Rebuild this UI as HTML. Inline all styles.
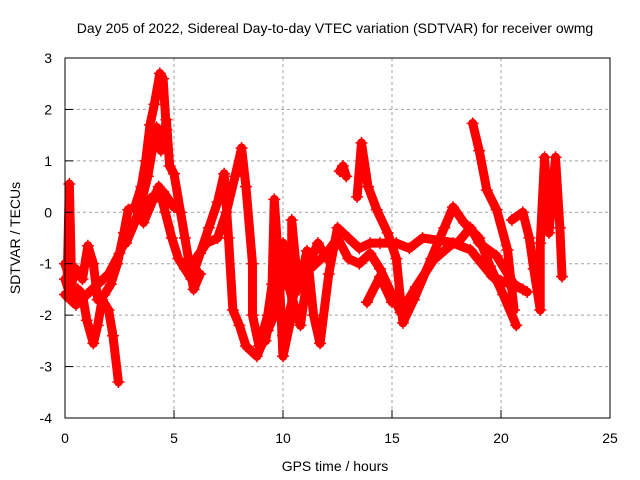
<!DOCTYPE html>
<html><head><meta charset="utf-8"><style>
body{margin:0;background:#fff}
svg{display:block;font-family:"Liberation Sans",sans-serif}
</style></head><body>
<svg id="c" width="640" height="480">
<text x="335" y="33" font-size="14" text-anchor="middle">Day 205 of 2022, Sidereal Day-to-day VTEC variation (SDTVAR) for receiver owmg</text>
<text x="335" y="471" font-size="14" text-anchor="middle">GPS time / hours</text>
<text transform="translate(20,238) rotate(-90)" font-size="14" text-anchor="middle">SDTVAR / TECUs</text>
<g id="grid"></g><g id="marks"></g>
<rect x="65" y="58" width="545" height="360" fill="none" stroke="#000" stroke-width="1"/>
<g id="ticks"></g>
</svg>
<script>
const xTicks=[0,5,10,15,20,25];
const yTicks=[-4,-3,-2,-1,0,1,2,3];
const s1=[[0,-1.3],[0.3,-1.7],[0.6,-1.5],[0.8,-1.6],[1.0,-2.1],[1.3,-2.55],[1.5,-2.2],[1.7,-1.7],[2.0,-1.9],[2.2,-2.4],[2.45,-3.3]];
const s2=[[0,-1.0],[0.3,-1.4],[0.5,-1.1],[0.8,-1.3],[1.05,-0.65],[1.3,-1.0],[1.5,-1.7],[1.8,-1.6],[2.1,-1.4],[2.4,-1.0],[2.7,-0.4],[2.9,0.05],[3.2,0.1],[3.5,0.5],[3.7,1.0],[3.9,1.7],[4.1,2.1],[4.35,2.7],[4.5,2.6],[4.65,1.6]];
const s3=[[0.1,-1.3],[0.2,0.55],[0.3,-1.3]];
const s4=[[2.8,-0.6],[3.2,-0.2],[3.5,0.2],[3.8,0.7],[4.0,1.2],[4.2,1.65],[4.4,1.2],[4.65,1.8],[4.8,0.9],[5.0,0.75],[5.3,0.0],[5.5,-0.5],[5.9,-1.5],[6.2,-1.2]];
const s5=[[3.6,-0.2],[4.0,0.2],[4.3,0.5],[4.6,0.0],[4.9,-0.5],[5.2,-0.9],[5.5,-1.1],[5.8,-1.3],[6.2,-0.8],[6.6,-0.3],[7.0,0.2],[7.3,0.75],[7.5,-0.5],[7.7,-1.9],[8.0,-2.2],[8.3,-2.6],[8.8,-2.8],[9.3,-2.3],[9.7,-1.9],[10.0,-1.2]];
const s6=[[6.0,-0.9],[6.5,-0.6],[7.0,-0.5],[7.4,0.0],[7.8,0.7],[8.1,1.25],[8.3,0.5],[8.6,-1.0],[8.6,-2.0],[8.9,-2.6],[9.3,-2.0],[9.5,-1.4],[9.6,0.25],[9.8,-1.0],[10.0,-2.8],[10.4,-2.0],[10.4,-0.15],[10.7,-1.5],[11.1,-0.75],[11.4,-2.0],[11.7,-2.55],[12.1,-1.2],[12.5,-0.3],[13.0,-0.5],[13.5,-0.7],[14.0,-0.6],[14.45,-0.6],[15.2,-0.6],[15.8,-0.7],[16.4,-0.5],[17.2,-0.55],[18.0,-0.6],[18.6,-0.3],[19.0,-0.6],[19.8,-0.85],[20.6,-1.4],[21.2,-1.55]];
const s7=[[10.0,-2.4],[10.5,-1.6],[11.0,-1.2],[11.5,-1.0],[12.0,-0.8],[12.5,-0.5],[13.0,-0.9],[13.5,-1.0],[14.0,-0.8],[14.45,-1.1],[15.0,-1.6],[15.4,-1.95],[16.1,-1.45],[16.9,-0.93],[17.8,-0.6],[18.6,-0.73],[19.6,-1.25],[20.3,-1.38],[21.0,-1.5]];
const s8=[[13.4,0.3],[13.6,1.35],[13.9,0.5],[14.3,0.05],[14.8,-0.4],[15.2,-0.9],[15.5,-2.15],[16.0,-1.7],[16.8,-0.9],[17.4,-0.3],[17.8,0.1],[18.3,-0.2],[19.0,-0.5],[19.5,-1.05],[20.1,-1.6],[20.7,-2.2]];
const s9=[[12.6,0.8],[12.75,0.9],[12.9,0.7]];
const s10=[[13.85,-1.75],[14.45,-1.25],[15.0,-1.75]];
const s11=[[18.7,1.73],[19.0,1.2],[19.35,0.43],[19.8,0.05],[20.3,-0.73],[20.6,-1.9]];
const s12=[[20.5,-0.15],[21.0,0.0],[21.3,-0.5],[21.5,-1.1],[21.8,-1.9],[21.8,-0.6],[22.0,1.07],[22.2,-0.4],[22.5,1.07],[22.7,-0.3],[22.8,-1.25]];
const s13=[[9.2,-2.5],[9.6,-1.5],[10.0,-0.6],[10.3,-1.5],[10.8,-2.2],[11.2,-1.0],[11.6,-0.6],[12.0,-0.9]];
const s14=[[0,-1.6],[0.5,-1.8],[1.0,-1.6],[1.5,-1.4],[2.0,-1.2],[2.5,-0.8],[3.0,-0.3],[3.5,0.0],[4.0,0.3],[4.5,0.4],[5.0,0.1]];
const series=[s1,s2,s3,s4,s5,s6,s7,s8,s9,s10,s11,s12,s13,s14];
const NS="http://www.w3.org/2000/svg";
const X=t=>65+t*545/25, Y=v=>58+(3-v)*360/7;
const grid=document.getElementById('grid'),ticks=document.getElementById('ticks'),marks=document.getElementById('marks');
function mk(tag,attrs,parent){const e=document.createElementNS(NS,tag);for(const k in attrs)e.setAttribute(k,attrs[k]);parent.appendChild(e);return e;}
xTicks.forEach(t=>{
 if(t>0&&t<25){const g=mk('line',{x1:X(t),x2:X(t),y1:58,y2:418,stroke:'#a0a0a0','stroke-dasharray':'3,3'},grid);
 
 }
 const tx=mk('text',{x:X(t),y:443,'font-size':14,'text-anchor':'middle'},ticks);tx.textContent=t;
 
 
 mk('line',{x1:X(t),x2:X(t),y1:418,y2:410,stroke:'#000'},ticks);
});
yTicks.forEach(v=>{
 if(v>-4&&v<3){const g=mk('line',{x1:65,x2:610,y1:Y(v),y2:Y(v),stroke:'#a0a0a0','stroke-dasharray':'3,3'},grid);
 
 }
 const tx=mk('text',{x:52,y:Y(v)+5,'font-size':14,'text-anchor':'end'},ticks);tx.textContent=v;
 
 
 mk('line',{x1:65,x2:73,y1:Y(v),y2:Y(v),stroke:'#000'},ticks);
});
series.forEach((s,i)=>{
 const pl=mk('polyline',{points:s.map(p=>X(p[0])+','+Y(p[1])).join(' '),fill:'none',stroke:'#ff0000','stroke-width':9,'stroke-linejoin':'round','stroke-linecap':'round'},marks);
 
 
 s.forEach(p=>{
  const x=X(p[0]),y=Y(p[1]);
  const c=mk('path',{d:`M${x-6},${y}H${x+6}M${x},${y-6}V${y+6}`,stroke:'#ff0000','stroke-width':1.5},marks);
  
  
 });
});
</script>
</body></html>
